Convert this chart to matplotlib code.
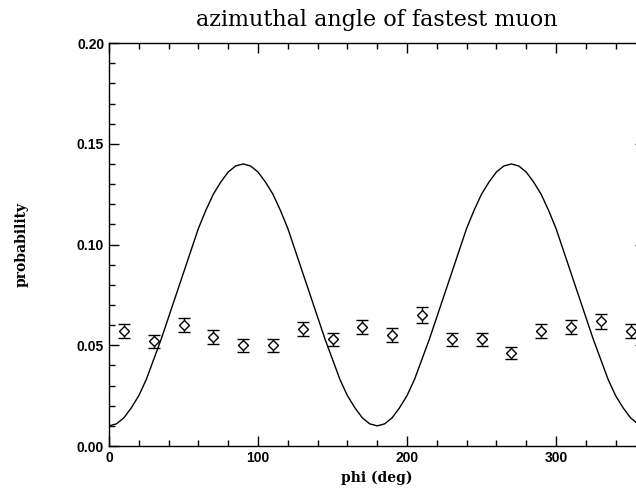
import matplotlib
matplotlib.use("Agg")
import matplotlib.pyplot as plt
import numpy as np
from matplotlib.ticker import MultipleLocator

# data points (bin centres, probability, error)
phi_pts = [10, 30, 50, 70, 90, 110, 130, 150, 170, 190, 210, 230, 250, 270, 290, 310, 330, 350]
prob_pts = [0.057, 0.052, 0.060, 0.054, 0.050, 0.050, 0.058, 0.053, 0.059, 0.055,
            0.065, 0.053, 0.053, 0.046, 0.057, 0.059, 0.062, 0.057]
err_pts = [0.0035, 0.0033, 0.0036, 0.0034, 0.0032, 0.0032, 0.0035, 0.0033, 0.0035, 0.0034,
           0.0038, 0.0033, 0.0033, 0.0030, 0.0035, 0.0035, 0.0037, 0.0035]

# model curve read every 5 degrees
phi_curve = list(range(0, 365, 5))
prob_curve = [0.010, 0.011, 0.014, 0.019, 0.025, 0.033, 0.043, 0.053, 0.064, 0.075,
              0.086, 0.097, 0.108, 0.117, 0.125, 0.131, 0.136, 0.139, 0.140,
              0.139, 0.136, 0.131, 0.125, 0.117, 0.108, 0.097, 0.086, 0.075,
              0.064, 0.053, 0.043, 0.033, 0.025, 0.019, 0.014, 0.011, 0.010,
              0.011, 0.014, 0.019, 0.025, 0.033, 0.043, 0.053, 0.064, 0.075,
              0.086, 0.097, 0.108, 0.117, 0.125, 0.131, 0.136, 0.139, 0.140,
              0.139, 0.136, 0.131, 0.125, 0.117, 0.108, 0.097, 0.086, 0.075,
              0.064, 0.053, 0.043, 0.033, 0.025, 0.019, 0.014, 0.011, 0.010]

fig = plt.figure(figsize=(6.36, 4.91), dpi=100)
ax = fig.add_axes([0.1714, 0.0916, 0.8434, 0.8207])

ax.plot(phi_curve, prob_curve, color="black", lw=1.0)
ax.errorbar(phi_pts, prob_pts, yerr=err_pts, fmt="D", mfc="white", mec="black",
            ms=5, mew=1.0, ecolor="black", elinewidth=1.0, capsize=4.5, capthick=1.0)

ax.set_xlim(0, 360)
ax.set_ylim(0, 0.20)
ax.xaxis.set_major_locator(MultipleLocator(100))
ax.xaxis.set_minor_locator(MultipleLocator(20))
ax.yaxis.set_major_locator(MultipleLocator(0.05))
ax.yaxis.set_minor_locator(MultipleLocator(0.01))
ax.set_yticks([0.0, 0.05, 0.10, 0.15, 0.20])
ax.set_yticklabels(["0.00", "0.05", "0.10", "0.15", "0.20"])
ax.tick_params(which="both", direction="in", top=True, right=True, width=1.0)
ax.tick_params(which="major", length=7)
ax.tick_params(which="minor", length=4)
for lab in ax.get_xticklabels() + ax.get_yticklabels():
    lab.set_fontfamily("Liberation Sans")
    lab.set_fontsize(10)
    lab.set_fontweight("bold")
for sp in ax.spines.values():
    sp.set_linewidth(1.0)

ax.set_title("azimuthal angle of fastest muon", fontfamily="DejaVu Serif", fontsize=16, pad=12)
ax.set_xlabel("phi (deg)", fontfamily="DejaVu Serif", fontsize=10, fontweight="bold", labelpad=4)
ax.set_ylabel("probability", fontfamily="DejaVu Serif", fontsize=10, fontweight="bold", labelpad=35)

fig.savefig("out.png", dpi=100)
